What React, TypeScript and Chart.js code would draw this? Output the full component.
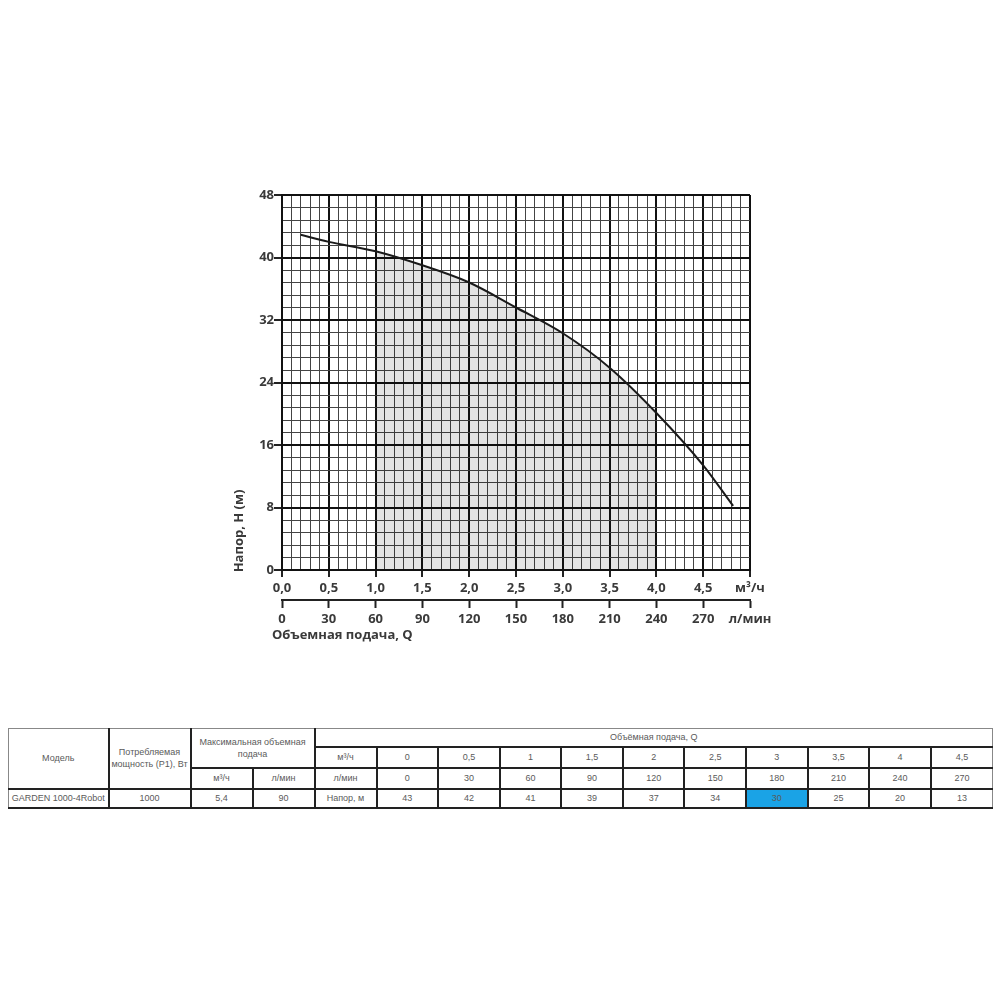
import React, { useEffect, useRef } from "react";
import { Chart, registerables } from "chart.js";

Chart.register(...registerables);

// ---- Curve data ----
const flowM3h = [0.2, 0.5, 1.0, 1.5, 2.0, 2.5, 3.0, 3.5, 4.0, 4.5, 4.82];
const headM = [42.9, 42.0, 40.8, 39.0, 36.8, 33.6, 30.3, 25.9, 20.1, 13.4, 8.2];
const shadeFrom = 1.0;
const shadeTo = 4.0;

// ---- Axis tick labels ----
const xTickLabels = ["0,0", "0,5", "1,0", "1,5", "2,0", "2,5", "3,0", "3,5", "4,0", "4,5", "м³/ч"];
const x2TickLabels = ["0", "30", "60", "90", "120", "150", "180", "210", "240", "270", "л/мин"];
const yTickLabels = ["0", "8", "16", "24", "32", "40", "48"];
const xMax = 5;
const x2Max = 300;
const yMax = 48;
const minorPerMajor = 5;

// ---- Table data ----
const tableFlowM3h = ["0", "0,5", "1", "1,5", "2", "2,5", "3", "3,5", "4", "4,5"];
const tableFlowLmin = ["0", "30", "60", "90", "120", "150", "180", "210", "240", "270"];
const tableHead = ["43", "42", "41", "39", "37", "34", "30", "25", "20", "13"];
const highlightIndex = 6;
const modelName = "GARDEN 1000-4Robot";
const powerW = "1000";
const maxFlowM3h = "5,4";
const maxFlowLmin = "90";

const TICK_FONT = { family: '"Open Sans", sans-serif', size: 13, weight: "bold" as const };
const TEXT_COLOR = "#3a3a3a";

function gridValues(max: number, majorCount: number) {
  const n = majorCount * minorPerMajor;
  const out: { value: number }[] = [];
  for (let i = 0; i <= n; i++) out.push({ value: (max * i) / n });
  return out;
}

const titlesPlugin = {
  id: "axisTitles",
  afterDraw(chart: any) {
    const ctx = chart.ctx;
    ctx.save();
    ctx.fillStyle = TEXT_COLOR;
    ctx.font = 'bold 13px "Open Sans", sans-serif';
    ctx.textBaseline = "middle";
    ctx.textAlign = "left";
    ctx.fillText("Объемная подача, Q", 272, 635);
    ctx.translate(239, 531);
    ctx.rotate(-Math.PI / 2);
    ctx.textAlign = "center";
    ctx.fillText("Напор, H (м)", 0, 0);
    ctx.restore();
  },
};

export default function App() {
  const ref = useRef<HTMLCanvasElement>(null);

  useEffect(() => {
    const curve = flowM3h.map((x, i) => ({ x, y: headM[i] }));
    const shade = curve.filter((p) => p.x >= shadeFrom && p.x <= shadeTo);
    const xMajors = xTickLabels.length - 1;
    const yMajors = yTickLabels.length - 1;

    const chart = new Chart(ref.current!, {
      type: "line",
      data: {
        datasets: [
          {
            data: curve,
            borderColor: "#1a1a1a",
            borderWidth: 2,
            pointRadius: 0,
            cubicInterpolationMode: "monotone",
            fill: false,
            order: 0,
          },
          {
            data: shade,
            borderWidth: 0,
            borderColor: "rgba(0,0,0,0)",
            backgroundColor: "rgba(0,0,0,0.11)",
            pointRadius: 0,
            cubicInterpolationMode: "monotone",
            fill: "origin",
            order: 1,
          },
        ],
      },
      options: {
        responsive: false,
        animation: false,
        events: [],
        layout: { padding: { left: 0, top: 195, right: 250, bottom: 70 } },
        plugins: { legend: { display: false }, tooltip: { enabled: false } },
        scales: {
          x: {
            type: "linear",
            position: "bottom",
            weight: 0,
            min: 0,
            max: xMax,
            afterBuildTicks: (s: any) => {
              s.ticks = gridValues(xMax, xMajors);
            },
            afterFit: (s: any) => {
              s.height = 30;
            },
            ticks: {
              autoSkip: false,
              maxRotation: 0,
              minRotation: 0,
              padding: 3,
              color: TEXT_COLOR,
              font: TICK_FONT,
              callback: (_v: any, i: number) => (i % minorPerMajor === 0 ? xTickLabels[i / minorPerMajor] : ""),
            },
            grid: {
              color: (c: any) => (c.index % minorPerMajor === 0 ? "#111" : "#444"),
              lineWidth: (c: any) => (c.index % minorPerMajor === 0 ? 2 : 1),
              tickColor: (c: any) => (c.index % minorPerMajor === 0 ? "#222" : "rgba(0,0,0,0)"),
              tickWidth: 2,
              tickLength: 7,
            },
            border: { display: true, color: "#111", width: 2 },
          },
          x2: {
            type: "linear",
            position: "bottom",
            weight: 1,
            min: 0,
            max: x2Max,
            afterBuildTicks: (s: any) => {
              const n = x2TickLabels.length - 1;
              s.ticks = x2TickLabels.map((_, i) => ({ value: (x2Max * i) / n }));
            },
            afterFit: (s: any) => {
              s.height = 30;
            },
            ticks: {
              autoSkip: false,
              maxRotation: 0,
              minRotation: 0,
              padding: 3,
              color: TEXT_COLOR,
              font: TICK_FONT,
              callback: (_v: any, i: number) => x2TickLabels[i],
            },
            grid: {
              drawOnChartArea: false,
              tickColor: "#222",
              tickWidth: 2,
              tickLength: 8,
            },
            border: { display: true, color: "#222", width: 2 },
          },
          y: {
            type: "linear",
            position: "left",
            min: 0,
            max: yMax,
            afterBuildTicks: (s: any) => {
              s.ticks = gridValues(yMax, yMajors);
            },
            afterFit: (s: any) => {
              s.width = 282;
            },
            ticks: {
              autoSkip: false,
              padding: 0,
              color: TEXT_COLOR,
              font: TICK_FONT,
              callback: (_v: any, i: number) => (i % minorPerMajor === 0 ? yTickLabels[i / minorPerMajor] : ""),
            },
            grid: {
              color: (c: any) => (c.index % minorPerMajor === 0 ? "#111" : "#444"),
              lineWidth: (c: any) => (c.index % minorPerMajor === 0 ? 2 : 1),
              tickColor: (c: any) => (c.index % minorPerMajor === 0 ? "#222" : "rgba(0,0,0,0)"),
              tickWidth: 2,
              tickLength: 8,
            },
            border: { display: true, color: "#111", width: 2 },
          },
        },
      } as any,
      plugins: [titlesPlugin],
    });
    return () => chart.destroy();
  }, []);

  const cell = (extra: React.CSSProperties = {}): React.CSSProperties => ({
    border: "2px solid #222",
    padding: 0,
    textAlign: "center",
    verticalAlign: "middle",
    lineHeight: "12px",
    ...extra,
  });
  const thin = "1px solid #888";

  const colWidths = [100, 82, 62, 62, 62, ...tableFlowM3h.map(() => 61.6)];
  const last = tableFlowM3h.length - 1;

  return (
    <div style={{ position: "absolute", left: 0, top: 0, width: 1000, height: 1000, background: "#fff" }}>
      <canvas
        ref={ref}
        width={1000}
        height={700}
        style={{ position: "absolute", left: 0, top: 0, width: 1000, height: 700 }}
      />
      <table
        style={{
          position: "absolute",
          left: 8,
          top: 728,
          width: 984,
          borderCollapse: "collapse",
          tableLayout: "fixed",
          fontFamily: '"Liberation Sans", Arial, sans-serif',
          fontSize: 9,
          color: "#5a5a5a",
        }}
      >
        <colgroup>
          {colWidths.map((w, i) => (
            <col key={i} style={{ width: w }} />
          ))}
        </colgroup>
        <tbody>
          <tr style={{ height: 18 }}>
            <td rowSpan={3} style={cell({ borderTop: thin, borderLeft: thin })}>Модель</td>
            <td rowSpan={3} style={cell({ borderTop: thin })}>
              Потребляемая
              <br />
              мощность (P1), Вт
            </td>
            <td rowSpan={2} colSpan={2} style={cell({ borderTop: thin })}>
              Максимальная объемная
              <br />
              подача
            </td>
            <td colSpan={11} style={cell({ borderTop: thin, borderRight: thin })}>Объёмная подача, Q</td>
          </tr>
          <tr style={{ height: 21 }}>
            <td style={cell()}>м³/ч</td>
            {tableFlowM3h.map((v, i) => (
              <td key={i} style={cell(i === last ? { borderRight: thin } : {})}>{v}</td>
            ))}
          </tr>
          <tr style={{ height: 21 }}>
            <td style={cell()}>м³/ч</td>
            <td style={cell()}>л/мин</td>
            <td style={cell()}>л/мин</td>
            {tableFlowLmin.map((v, i) => (
              <td key={i} style={cell(i === last ? { borderRight: thin } : {})}>{v}</td>
            ))}
          </tr>
          <tr style={{ height: 19 }}>
            <td style={cell({ borderLeft: thin })}>{modelName}</td>
            <td style={cell()}>{powerW}</td>
            <td style={cell()}>{maxFlowM3h}</td>
            <td style={cell()}>{maxFlowLmin}</td>
            <td style={cell()}>Напор, м</td>
            {tableHead.map((v, i) => (
              <td
                key={i}
                style={cell({
                  ...(i === highlightIndex ? { background: "#1aa3e6" } : {}),
                  ...(i === last ? { borderRight: thin } : {}),
                })}
              >
                {v}
              </td>
            ))}
          </tr>
        </tbody>
      </table>
    </div>
  );
}
